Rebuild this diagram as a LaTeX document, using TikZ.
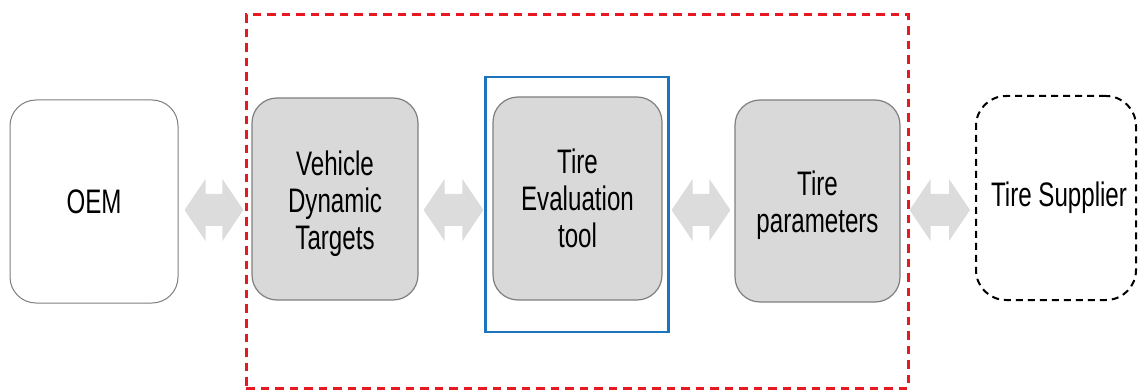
\documentclass[tikz,border=0pt]{standalone}
\usepackage{fontspec}
\newfontfamily\boxfont[FakeStretch=0.71]{Liberation Sans}
\usetikzlibrary{calc}

\definecolor{frameRed}{RGB}{232,24,32}
\definecolor{frameBlue}{RGB}{28,117,188}
\definecolor{boxGrey}{RGB}{217,217,217}
\definecolor{boxEdge}{RGB}{127,127,127}
\definecolor{twowayGrey}{RGB}{220,220,220}

\tikzset{
  label text/.style={font=\boxfont\fontsize{34pt}{37pt}\selectfont, align=center, text=black},
  plainbox/.style={label text, draw=boxEdge, line width=1pt, fill=white, rounded corners=26pt},
  greybox/.style={draw=boxEdge, line width=1.2pt, fill=boxGrey, rounded corners=25pt},
  partnerbox/.style={label text, draw=black, line width=2pt, dash pattern=on 7pt off 5pt, rounded corners=30pt},
  scopeframe/.style={draw=frameRed, line width=3pt, dash pattern=on 8.5pt off 6pt},
  toolframe/.style={draw=frameBlue, line width=2.2pt},
  twowayfill/.style={fill=twowayGrey},
  % centred caption, nudged down so lines with descenders sit like the others
  caption/.style={label={[label text, yshift=-4.5pt]center:#1}},
}

% wide grey double-headed arrow between two named points (same height)
\newcommand\twoway[2]{%
  \fill[twowayfill] let \p1=(#1), \p2=(#2) in
    (\x1,\y1) -- (\x1+21pt,\y1+31pt) -- (\x1+21pt,\y1+16pt) --
    (\x2-21pt,\y1+16pt) -- (\x2-21pt,\y1+31pt) -- (\x2,\y1) --
    (\x2-21pt,\y1-31pt) -- (\x2-21pt,\y1-16pt) --
    (\x1+21pt,\y1-16pt) -- (\x1+21pt,\y1-31pt) -- cycle;}

\begin{document}
\begin{tikzpicture}[x=1pt,y=-1pt]
  \useasboundingbox (0,0) rectangle (1138,390);

  % frames
  \node[scopeframe, minimum width=662pt, minimum height=373pt, inner sep=0pt] (scope) at (577,201.5) {};
  \node[toolframe, minimum width=183pt, minimum height=255pt, inner sep=0pt] (toolframe) at (577,204.5) {};

  % boxes
  \node[plainbox, minimum width=168pt, minimum height=203pt] (oem) at (94,201.5) {OEM};
  \node[greybox, minimum width=166pt, minimum height=202pt,
        caption={Vehicle\\Dynamic\\Targets}] (vdt) at (335,199) {};
  \node[greybox, minimum width=169pt, minimum height=203pt,
        label={[label text]center:Tire\\Evaluation\\tool}] (eval) at (577.5,198.5) {};
  \node[greybox, minimum width=165pt, minimum height=202pt,
        caption={Tire\\parameters}] (params) at (817.5,201) {};
  \node[partnerbox, minimum width=160pt, minimum height=204pt] (supplier) at (1056,198) {\hspace{6pt}Tire Supplier};

  % arrow end points
  \coordinate (a1l) at ($(oem.east)+(6,8.5)$);
  \coordinate (a1r) at ($(vdt.west)+(-8,11)$);
  \coordinate (a2l) at ($(vdt.east)+(5,11)$);
  \coordinate (a2r) at ($(toolframe.west)+(-1,5.5)$);
  \coordinate (a3l) at ($(toolframe.east)+(2,5.5)$);
  \coordinate (a3r) at ($(params.west)+(-4,9)$);
  \coordinate (a4l) at ($(params.east)+(9,9)$);
  \coordinate (a4r) at ($(supplier.west)+(-5,12)$);

  \twoway{a1l}{a1r}
  \twoway{a2l}{a2r}
  \twoway{a3l}{a3r}
  \twoway{a4l}{a4r}
\end{tikzpicture}
\end{document}
